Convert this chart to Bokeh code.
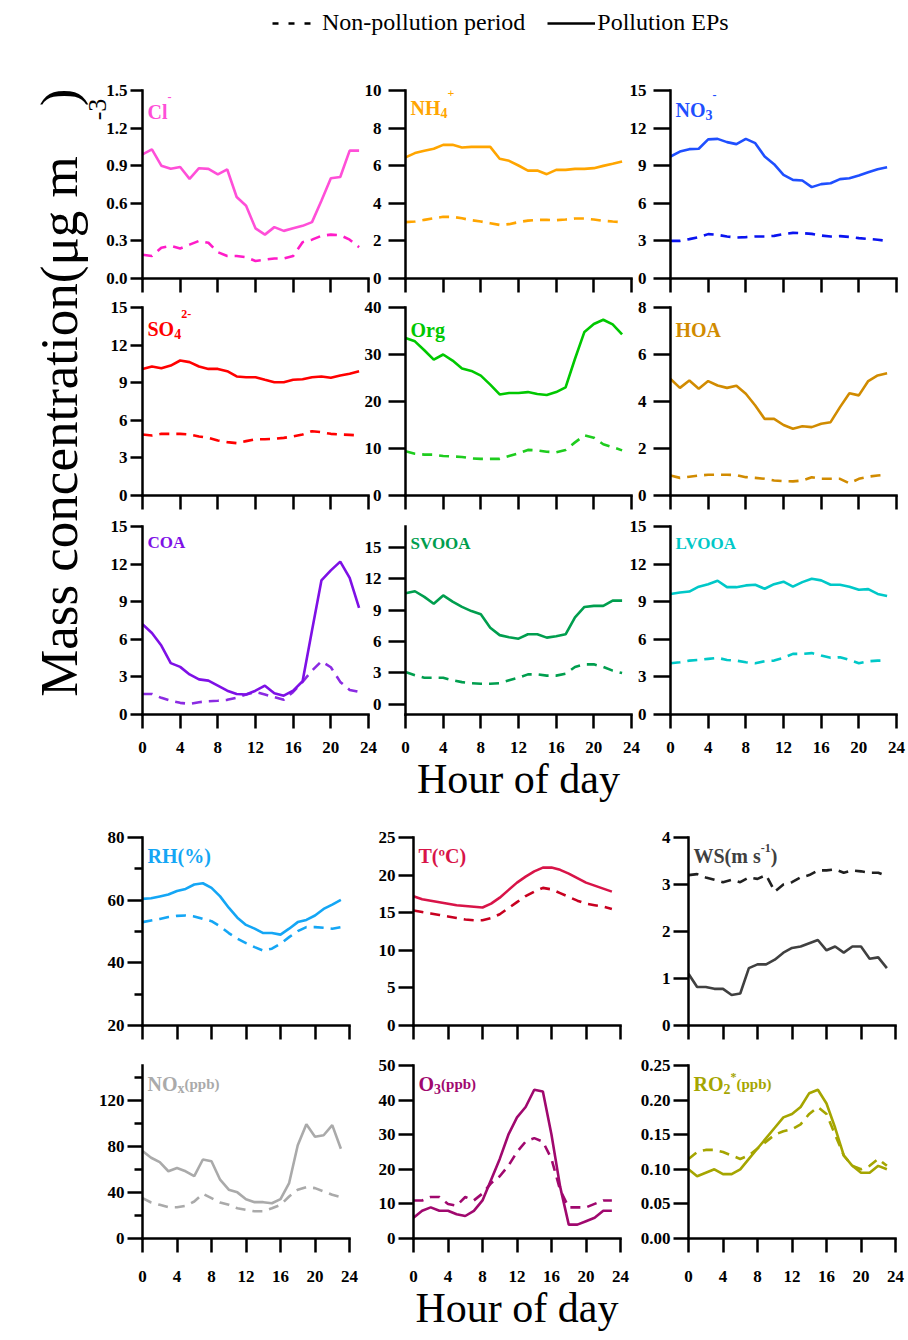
import numpy as np
from bokeh.plotting import figure
from bokeh.models import (Label, Legend, LegendItem, FixedTicker, Range1d,
                          PrintfTickFormatter)
from bokeh.layouts import column, row
from bokeh.embed import file_html
from bokeh.resources import INLINE

FONT = "Liberation Serif"

# ---------------- data ----------------
hours = list(range(24))
x_ticks = [0, 4, 8, 12, 16, 20, 24]

cl_ep = [0.99, 1.03, 0.90, 0.875, 0.89, 0.795, 0.88, 0.875, 0.83, 0.87, 0.65, 0.58,
         0.40, 0.35, 0.41, 0.38, 0.40, 0.42, 0.45, 0.62, 0.80, 0.81, 1.02, 1.02]
cl_np = [0.19, 0.18, 0.245, 0.26, 0.24, 0.27, 0.30, 0.285, 0.21, 0.18, 0.18, 0.17,
         0.14, 0.15, 0.16, 0.16, 0.18, 0.29, 0.31, 0.34, 0.35, 0.345, 0.31, 0.25]

nh4_ep = [6.44, 6.67, 6.79, 6.9, 7.11, 7.11, 6.97, 7.0, 7.0, 7.0, 6.37, 6.26,
          6.01, 5.74, 5.74, 5.55, 5.78, 5.78, 5.83, 5.83, 5.87, 5.99, 6.1, 6.22]
nh4_np = [3.0, 3.03, 3.12, 3.2, 3.28, 3.28, 3.2, 3.1, 3.03, 2.94, 2.85, 2.89,
          3.0, 3.08, 3.12, 3.12, 3.1, 3.14, 3.19, 3.19, 3.14, 3.07, 3.03, 3.0]

no3_ep = [9.73, 10.13, 10.32, 10.35, 11.1, 11.14, 10.88, 10.72, 11.14, 10.8, 9.73, 9.12,
          8.27, 7.87, 7.82, 7.29, 7.53, 7.6, 7.93, 8.0, 8.22, 8.48, 8.72, 8.88]
no3_np = [3.0, 3.0, 3.14, 3.3, 3.54, 3.48, 3.35, 3.27, 3.3, 3.35, 3.35, 3.4,
          3.54, 3.64, 3.62, 3.56, 3.43, 3.35, 3.38, 3.32, 3.22, 3.16, 3.09, 3.0]

so4_ep = [10.1, 10.29, 10.16, 10.37, 10.77, 10.64, 10.29, 10.1, 10.1, 9.92, 9.5, 9.44,
          9.44, 9.23, 9.04, 9.04, 9.23, 9.28, 9.44, 9.5, 9.39, 9.57, 9.71, 9.92]
so4_np = [4.87, 4.79, 4.92, 4.92, 4.92, 4.87, 4.71, 4.6, 4.39, 4.26, 4.18, 4.34,
          4.49, 4.49, 4.52, 4.6, 4.71, 4.87, 5.13, 5.05, 4.92, 4.87, 4.84, 4.79]

org_ep = [33.5, 32.8, 30.9, 28.9, 30.0, 28.7, 27.0, 26.5, 25.5, 23.6, 21.5, 21.8,
          21.8, 22.0, 21.6, 21.4, 22.0, 23.0, 29.1, 34.8, 36.5, 37.4, 36.4, 34.3]
org_np = [9.4, 8.9, 8.7, 8.7, 8.4, 8.3, 8.2, 7.9, 7.8, 7.8, 7.8, 8.4,
          9.0, 9.7, 9.6, 9.3, 9.2, 9.7, 11.3, 12.8, 12.3, 10.9, 10.3, 9.6]

hoa_ep = [4.96, 4.58, 4.89, 4.54, 4.87, 4.68, 4.58, 4.67, 4.33, 3.83, 3.26, 3.26,
          3.0, 2.84, 2.95, 2.91, 3.05, 3.12, 3.76, 4.35, 4.26, 4.87, 5.11, 5.2]
hoa_np = [0.85, 0.75, 0.8, 0.85, 0.88, 0.88, 0.88, 0.87, 0.78, 0.75, 0.71, 0.64,
          0.61, 0.6, 0.64, 0.78, 0.71, 0.71, 0.71, 0.52, 0.71, 0.8, 0.85, 0.89]

coa_ep = [7.2, 6.5, 5.5, 4.1, 3.8, 3.2, 2.8, 2.7, 2.3, 1.9, 1.64, 1.6,
          1.9, 2.3, 1.7, 1.5, 1.9, 2.65, 6.7, 10.7, 11.5, 12.2, 10.9, 8.5]
coa_np = [1.64, 1.64, 1.33, 1.1, 0.93, 0.85, 0.98, 1.06, 1.1, 1.17, 1.33, 1.6,
          1.8, 1.6, 1.38, 1.17, 1.8, 2.6, 3.5, 4.24, 3.77, 2.6, 1.96, 1.8]

svooa_ep = [10.6, 10.8, 10.26, 9.6, 10.4, 9.8, 9.3, 8.9, 8.6, 7.3, 6.6, 6.4,
            6.26, 6.68, 6.68, 6.36, 6.5, 6.68, 8.3, 9.3, 9.4, 9.4, 9.9, 9.9]
svooa_np = [3.07, 2.75, 2.52, 2.52, 2.52, 2.27, 2.1, 2.0, 1.95, 1.95, 2.0, 2.27,
            2.52, 2.84, 2.84, 2.72, 2.72, 2.9, 3.55, 3.8, 3.8, 3.55, 3.2, 2.97]

lvooa_ep = [9.62, 9.73, 9.81, 10.2, 10.4, 10.67, 10.16, 10.16, 10.3, 10.35, 10.03, 10.4,
            10.6, 10.2, 10.56, 10.83, 10.7, 10.35, 10.35, 10.2, 9.95, 10.0, 9.62, 9.46]
lvooa_np = [4.09, 4.17, 4.3, 4.35, 4.44, 4.52, 4.35, 4.3, 4.17, 4.09, 4.25, 4.3,
            4.52, 4.84, 4.84, 4.9, 4.7, 4.52, 4.57, 4.35, 4.09, 4.25, 4.3, 4.3]

rh_ep = [60.4, 60.6, 61.2, 61.8, 62.9, 63.6, 65.0, 65.4, 63.9, 61.2, 57.6, 54.4,
         52.1, 50.9, 49.5, 49.5, 49.0, 50.9, 53.0, 53.7, 55.1, 57.2, 58.6, 60.1]
rh_np = [53.0, 53.5, 54.0, 54.6, 55.0, 55.1, 54.8, 54.0, 53.3, 51.6, 49.5, 47.7,
         46.3, 45.0, 43.9, 44.5, 46.1, 48.2, 50.1, 51.4, 51.4, 51.2, 50.9, 51.4]

t_ep = [17.2, 16.8, 16.6, 16.4, 16.2, 16.0, 15.9, 15.8, 15.7, 16.2, 17.0, 18.0,
        19.0, 19.8, 20.5, 21.0, 21.0, 20.7, 20.2, 19.6, 19.0, 18.6, 18.2, 17.8]
t_np = [15.3, 15.1, 14.9, 14.7, 14.5, 14.3, 14.1, 14.0, 14.0, 14.3, 14.8, 15.6,
        16.4, 17.2, 17.8, 18.3, 18.1, 17.6, 17.1, 16.6, 16.2, 16.0, 15.8, 15.5]

ws_ep = [1.1, 0.82, 0.82, 0.78, 0.78, 0.65, 0.68, 1.22, 1.3, 1.3, 1.4, 1.55,
         1.65, 1.68, 1.75, 1.82, 1.6, 1.68, 1.55, 1.68, 1.68, 1.42, 1.45, 1.22]
ws_np = [3.2, 3.22, 3.15, 3.1, 3.05, 3.1, 3.05, 3.15, 3.12, 3.2, 2.85, 3.0,
         3.05, 3.15, 3.2, 3.3, 3.3, 3.32, 3.25, 3.3, 3.28, 3.25, 3.25, 3.18]

nox_ep = [75.8, 70.0, 66.2, 58.3, 61.2, 58.3, 54.0, 68.5, 67.0, 51.0, 42.3, 40.0,
          34.1, 31.5, 31.5, 30.6, 34.1, 48.1, 80.8, 99.1, 88.3, 89.5, 98.3, 77.8]
nox_np = [35.0, 31.2, 29.2, 27.1, 27.1, 28.3, 32.1, 38.8, 35.0, 31.2, 29.2, 26.2,
          24.8, 23.6, 23.6, 26.2, 29.2, 36.4, 42.3, 44.6, 43.7, 40.8, 37.9, 35.9]

o3_ep = [6, 8, 9, 8, 8, 7, 6.5, 8, 11, 17, 23, 30,
         35, 38, 43, 42.5, 30, 15, 4, 4, 5, 6, 8, 8]
o3_np = [11, 11, 12, 12, 10, 9.5, 12, 11, 13, 16, 18, 21,
         25, 28, 29, 28, 23, 14, 9, 9, 9, 10, 11, 11]

ro2_ep = [0.10, 0.09, 0.095, 0.10, 0.093, 0.093, 0.10, 0.115, 0.13, 0.145, 0.16, 0.175,
          0.18, 0.19, 0.21, 0.215, 0.195, 0.16, 0.12, 0.105, 0.095, 0.095, 0.105, 0.10]
ro2_np = [0.115, 0.125, 0.128, 0.128, 0.125, 0.12, 0.115, 0.12, 0.13, 0.14, 0.15, 0.155,
          0.158, 0.165, 0.18, 0.19, 0.18, 0.15, 0.12, 0.105, 0.10, 0.105, 0.115, 0.105]

# ---------------- helpers ----------------
BOLD_W = {**{c: 722 for c in "ACDNRUVXY"}, **{c: 778 for c in "GHKOQ"},
          "B": 667, "E": 667, "F": 611, "I": 389, "J": 500, "L": 667, "M": 944,
          "P": 611, "S": 556, "T": 667, "W": 1000, "Z": 667,
          "a": 500, "b": 556, "c": 444, "d": 556, "e": 444, "f": 333, "g": 500,
          "h": 556, "i": 278, "l": 278, "m": 833, "n": 556, "o": 500, "p": 556,
          "r": 444, "s": 389, "t": 333, "u": 556, "x": 500, "y": 500,
          "(": 333, ")": 333, "%": 1000, " ": 250, "-": 333, "+": 570, "*": 500,
          "\u00ba": 330}


def text_w(s, size):
    return sum(BOLD_W.get(ch, 500) for ch in s) * size / 1000.0


def add_title(p, parts, color, frame_h, base_from_top, main_size):
    x = 5.0
    y0 = frame_h - base_from_top
    for part in parts:
        txt, kind = part[0], part[1]
        if kind == "n":
            size, dy = main_size, 0
        elif kind == "sub":
            size, dy = round(main_size * 0.72), -5
        elif kind == "sup":
            size, dy = round(main_size * 0.62), (part[2] if len(part) > 2 else 15)
        else:
            size, dy = round(main_size * 0.76), 0
        p.add_layout(Label(x=x, y=y0 + dy, x_units="screen", y_units="screen",
                           text=txt, text_color=color, text_font=FONT,
                           text_font_style="bold", text_font_size=f"{size}px",
                           text_align="left", text_baseline="alphabetic"))
        x += text_w(txt, size)


def panel(borders, frame_w, frame_h, y_range, y_major, y_minor, ep, npd,
          c_ep, c_np, title_parts, title_size, title_base, show_x, fmt=None,
          xlabel=None, transparent=False, margin_left=0, x_standoff=13,
          ytick=12, ystand=3):
    lb, rb, tb, bb = borders
    kw = {}
    if margin_left:
        kw["margin"] = (0, 0, 0, margin_left)
    p = figure(width=lb + frame_w + rb, height=tb + frame_h + bb,
               x_range=Range1d(0, 24), y_range=Range1d(*y_range),
               output_backend="svg", toolbar_location=None,
               min_border_left=lb, min_border_right=rb,
               min_border_top=tb, min_border_bottom=bb, **kw)
    p.outline_line_color = None
    p.xgrid.visible = False
    p.ygrid.visible = False
    if transparent:
        p.border_fill_color = None
        p.background_fill_color = None
    p.line(hours, npd, line_color=c_np, line_width=2.6, line_dash="10 7")
    p.line(hours, ep, line_color=c_ep, line_width=2.6)

    if show_x:
        p.xaxis.ticker = FixedTicker(ticks=x_ticks)
    else:
        # ticks without labels: drawn as long minor ticks
        p.xaxis.ticker = FixedTicker(ticks=[], minor_ticks=x_ticks)
    p.yaxis.ticker = FixedTicker(ticks=y_major, minor_ticks=y_minor)
    if fmt:
        p.yaxis.formatter = PrintfTickFormatter(format=fmt)
    for ax in (p.xaxis[0], p.yaxis[0]):
        ax.axis_line_width = 2.5
        ax.axis_line_color = "black"
        ax.axis_line_cap = "square"
        ax.major_tick_line_width = 2.5
        ax.minor_tick_line_width = 2.5
        ax.major_tick_line_color = "black"
        ax.minor_tick_line_color = "black"
        ax.major_tick_in = 0
        ax.minor_tick_in = 0
        ax.major_label_text_font = FONT
        ax.major_label_text_font_style = "bold"
        ax.major_label_text_font_size = "17px"
        ax.major_label_text_color = "black"
    p.yaxis.major_tick_out = ytick
    p.yaxis.minor_tick_out = 8
    p.yaxis.major_label_standoff = ystand
    p.xaxis.major_tick_out = 14
    if show_x:
        p.xaxis.minor_tick_out = 0
        p.xaxis.major_label_standoff = x_standoff
    else:
        p.xaxis.minor_tick_out = 14
        p.xaxis.major_label_standoff = 0
    if xlabel:
        p.xaxis.axis_label = xlabel
        p.xaxis.axis_label_text_font = FONT
        p.xaxis.axis_label_text_font_style = "normal"
        p.xaxis.axis_label_text_font_size = "42px"
        p.xaxis.axis_label_text_color = "black"
        p.xaxis.axis_label_standoff = 0
    add_title(p, title_parts, c_ep, frame_h, title_base, title_size)
    return p


# ---------------- legend ----------------
leg = figure(width=908, height=48, x_range=Range1d(100, 101), y_range=Range1d(100, 101),
             x_axis_type=None, y_axis_type=None, toolbar_location=None,
             output_backend="svg", min_border=0)
leg.outline_line_color = None
leg.xgrid.visible = False
leg.ygrid.visible = False
# legend key renderers (their data lie outside this empty strip's ranges)
r_np = leg.line(hours, cl_np, line_color="black", line_width=2.6, line_dash="6 10")
r_ep = leg.line(hours, cl_ep, line_color="black", line_width=2.6)
legend = Legend(items=[LegendItem(label="Non-pollution period", renderers=[r_np]),
                       LegendItem(label="Pollution EPs", renderers=[r_ep])],
                orientation="horizontal", location=(272, 12),
                glyph_width=48, glyph_height=26, label_height=26,
                label_standoff=2, spacing=22, padding=0, margin=0,
                border_line_color=None, background_fill_alpha=0,
                label_text_font=FONT, label_text_font_size="24px",
                label_text_color="black")
leg.add_layout(legend)

# ---------------- top block ----------------
FW, FH = 226, 188
rows_b = [(42, 16), (13, 16), (15, 95)]
YW = 112
# (left border, right border, css margin-left, tick length, label standoff)
col_b = [(44, 12, -14, 12, 3), (47, 12, -22, 17, 7), (49, 12, -22, 17, 7)]

top_specs = [
    [((0, 1.5), [0, 0.3, 0.6, 0.9, 1.2, 1.5], cl_ep, cl_np, "#FF4FD8", "#FF1CC8",
      [("Cl", "n"), ("-", "sup")], "%.1f", 21),
     ((0, 10), [0, 2, 4, 6, 8, 10], nh4_ep, nh4_np, "#FFA500", "#FFA500",
      [("NH", "n"), ("4", "sub"), ("+", "sup")], None, 17),
     ((0, 15), [0, 3, 6, 9, 12, 15], no3_ep, no3_np, "#1F4FFF", "#0A14F0",
      [("NO", "n"), ("3", "sub"), ("-", "sup")], None, 19)],
    [((0, 15), [0, 3, 6, 9, 12, 15], so4_ep, so4_np, "#FF0000", "#FF0000",
      [("SO", "n"), ("4", "sub"), ("2-", "sup")], None, 21),
     ((0, 40), [0, 10, 20, 30, 40], org_ep, org_np, "#00C800", "#1ECC1E",
      [("Org", "n")], None, 22),
     ((0, 8), [0, 2, 4, 6, 8], hoa_ep, hoa_np, "#D18B00", "#D18B00",
      [("HOA", "n")], None, 22)],
    [((0, 15), [0, 3, 6, 9, 12, 15], coa_ep, coa_np, "#7E10E6", "#8B2BE2",
      [("COA", "n")], None, 16),
     ((-1, 17), [0, 3, 6, 9, 12, 15], svooa_ep, svooa_np, "#009E4E", "#009E4E",
      [("SVOOA", "n")], None, 17),
     ((0, 15), [0, 3, 6, 9, 12, 15], lvooa_ep, lvooa_np, "#00C8C8", "#00C8C8",
      [("LVOOA", "n")], None, 17)],
]

top_rows = []
for ri, specs in enumerate(top_specs):
    tb, bb = rows_b[ri]
    figs = []
    for ci, s in enumerate(specs):
        lb, rb, ml, ytk, yst = col_b[ci]
        yr, ym, ep, npd, ce, cn, tp, fmt, tbase = s
        tsize = 17 if ri == 2 else 20
        figs.append(panel((lb, rb, tb, bb), FW, FH, yr, ym, [], ep, npd, ce, cn,
                          tp, tsize, tbase, show_x=(ri == 2), fmt=fmt,
                          xlabel=("Hour of day" if (ri == 2 and ci == 1) else None),
                          transparent=True, margin_left=ml, ytick=ytk, ystand=yst))
    top_rows.append(row(*figs))

top_h = sum(t + FH + b for t, b in rows_b)
TOP0 = 48  # page y of the top block
ylab = figure(width=YW, height=top_h, x_range=Range1d(0, 1), y_range=Range1d(0, 1),
              x_axis_type=None, y_axis_type=None, toolbar_location=None,
              output_backend="svg", min_border=0)
ylab.outline_line_color = None
ylab.xgrid.visible = False
ylab.ygrid.visible = False


def ylab_text(txt, cx, cy, size):
    ylab.add_layout(Label(x=cx, y=top_h - (cy - TOP0), x_units="screen", y_units="screen",
                          text=txt, angle=np.pi / 2, text_align="center",
                          text_baseline="middle", text_font=FONT,
                          text_font_size=f"{size}px", text_color="black"))


ylab_text("Mass concentration(\u03bcg m", 58, 426, 53)
ylab_text(")", 58, 97, 53)
ylab_text("-3", 97, 109, 26)

top_block = row(ylab, column(*top_rows))

# ---------------- bottom block ----------------
BW = 207
bot_rows_b = [(28, 188, 16), (24, 173, 100)]
bot_col_b = [(142, 21), (43, 13), (55, 13)]
bot_specs = [
    [((20, 80), [20, 40, 60, 80], [30, 50, 70], rh_ep, rh_np, "#14A6F5", "#14A6F5",
      [("RH(%)", "n")], None),
     ((0, 25), [0, 5, 10, 15, 20, 25], [], t_ep, t_np, "#D81448", "#C80020",
      [("T(\u00baC)", "n")], None),
     ((0, 4), [0, 1, 2, 3, 4], [], ws_ep, ws_np, "#404040", "#202020",
      [("WS(m s", "n"), ("-1", "sup", 8), (")", "n")], None)],
    [((0, 150), [0, 40, 80, 120], [20, 60, 100, 140], nox_ep, nox_np, "#AAAAAA", "#AAAAAA",
      [("NO", "n"), ("x", "sub"), ("(ppb)", "small")], None),
     ((0, 50), [0, 10, 20, 30, 40, 50], [], o3_ep, o3_np, "#A0086E", "#A0086E",
      [("O", "n"), ("3", "sub"), ("(ppb)", "small")], None),
     ((0, 0.25), [0, 0.05, 0.10, 0.15, 0.20, 0.25], [], ro2_ep, ro2_np, "#A5A500", "#A5A500",
      [("RO", "n"), ("2", "sub"), ("*", "sup", 7), ("(ppb)", "small")], "%.2f")],
]
bot_rows = []
for ri, specs in enumerate(bot_specs):
    tb, fh, bb = bot_rows_b[ri]
    figs = []
    for ci, s in enumerate(specs):
        lb, rb = bot_col_b[ci]
        yr, ym, ymin, ep, npd, ce, cn, tp, fmt = s
        figs.append(panel((lb, rb, tb, bb), BW, fh, yr, ym, ymin, ep, npd, ce, cn,
                          tp, 20, 18, show_x=(ri == 1), fmt=fmt,
                          xlabel=("Hour of day" if (ri == 1 and ci == 1) else None),
                          x_standoff=18, ytick=15, ystand=3))
    bot_rows.append(row(*figs))

layout = column(leg, top_block, *bot_rows)

with open("out.html", "w") as f:
    f.write(file_html(layout, INLINE))
